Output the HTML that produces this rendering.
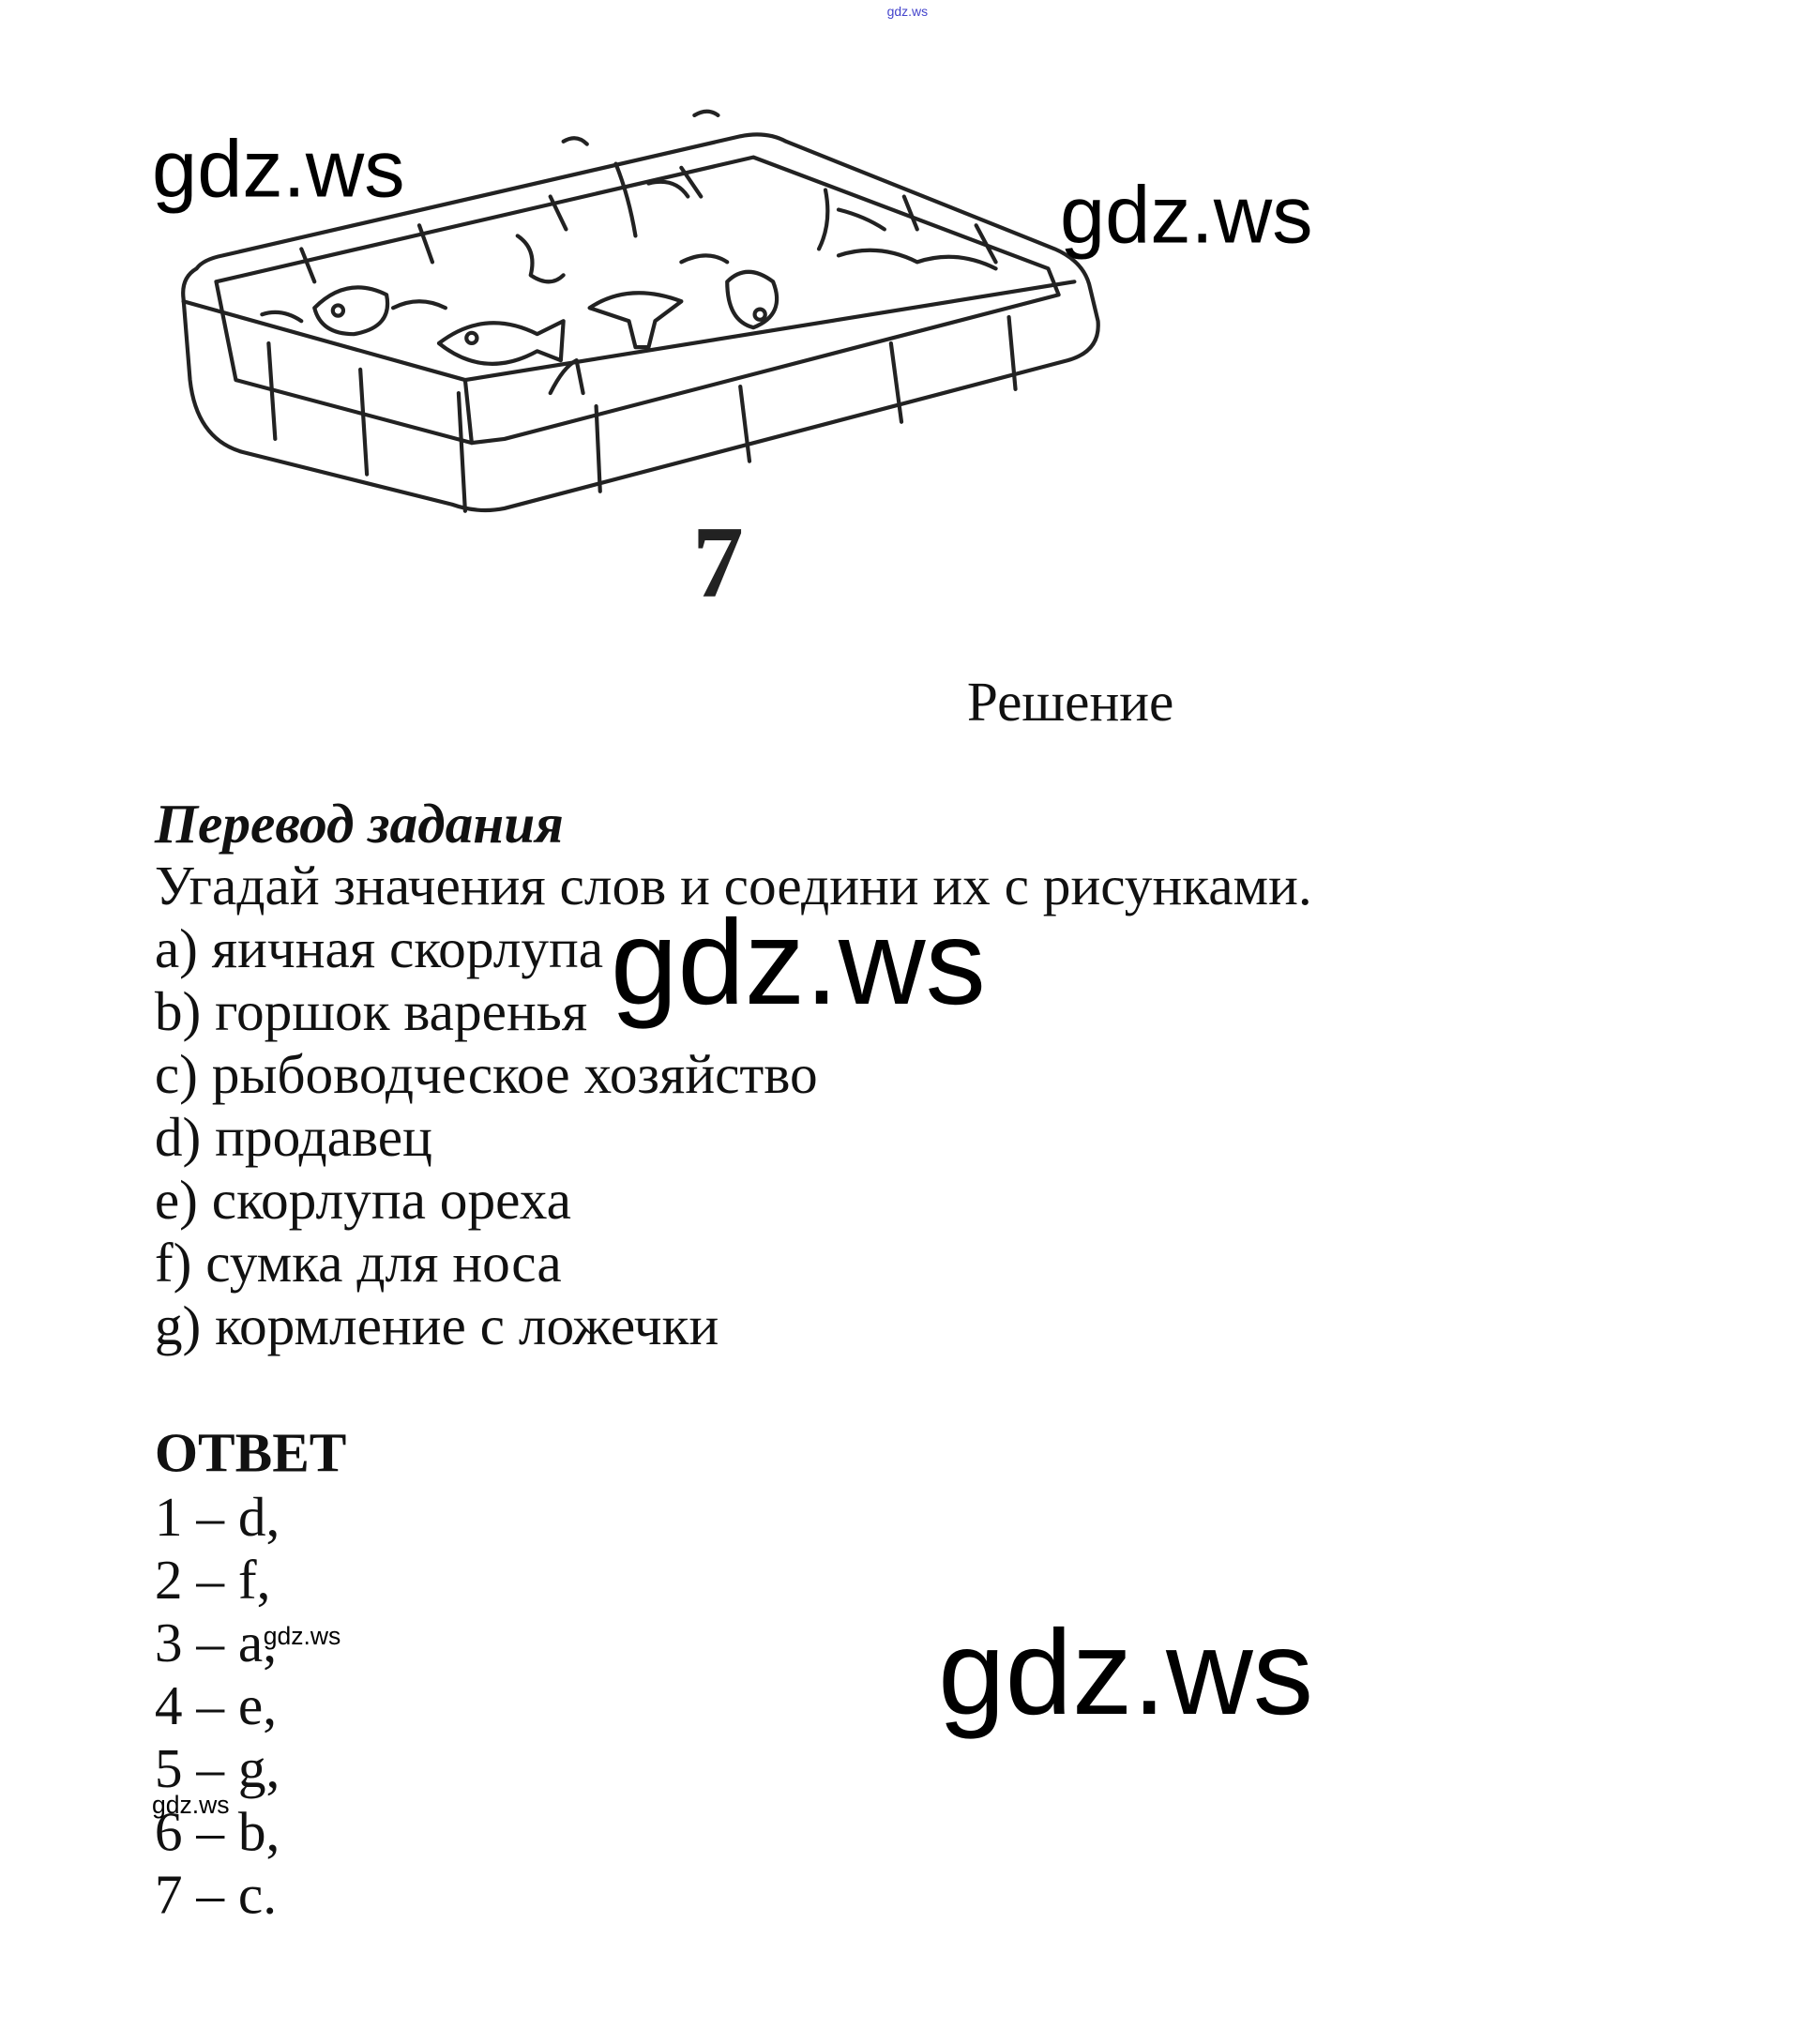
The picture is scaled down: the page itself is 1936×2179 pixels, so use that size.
<!DOCTYPE html>
<html><head><meta charset="utf-8">
<style>
html,body{margin:0;padding:0;background:#fff;}
svg{display:block;}
.t{font-family:"Liberation Serif","Noto Serif CJK SC",serif;font-size:42.5px;fill:#111;}
.w{font-family:"Liberation Sans","DejaVu Sans",sans-serif;fill:#000;}
</style></head>
<body>
<svg width="1936" height="2179" viewBox="0 0 1386 1560" xmlns="http://www.w3.org/2000/svg">
<rect width="1386" height="1560" fill="#fff"/>
<text x="677" y="12" class="w" font-size="10" style="fill:#44c">gdz.ws</text>

<g fill="none" stroke="#222" stroke-width="3" stroke-linejoin="round" stroke-linecap="round">
  <path d="M150,205 Q138,212 140,228 L145,290 Q150,335 185,345 L345,385 Q365,392 385,388 L815,275 Q840,268 838,245 L832,220 Q828,200 805,190 L600,108 Q585,100 565,104 L170,195 Q155,198 150,205 Z"/>
  <path d="M165,215 L575,120 L800,205 L808,225 L385,335 L360,338 L180,290 Z"/>
  <path d="M140,230 L355,290 L360,338"/>
  <path d="M355,290 L820,215"/>
  <path d="M205,262 L210,335 M275,282 L280,362 M350,300 L355,390 M455,310 L458,375 M565,295 L572,352 M680,262 L688,322 M770,242 L775,297"/>
  <path d="M230,190 L240,215 M320,172 L330,200 M420,150 L432,175 M520,128 L535,150 M690,150 L700,175 M745,172 L760,200"/>
  <path d="M240,235 Q265,210 295,225 Q300,250 270,255 Q245,255 240,235 Z"/>
  <circle cx="258" cy="237" r="4"/>
  <path d="M335,262 Q370,235 410,255 L430,245 L428,275 L410,268 Q370,290 335,262 Z"/>
  <circle cx="360" cy="258" r="4"/>
  <path d="M555,215 Q570,200 590,215 Q600,240 575,250 Q555,245 555,215 Z"/>
  <circle cx="580" cy="240" r="4"/>
  <path d="M450,235 Q480,215 520,230 L500,245 L495,265 L485,265 L480,245 Z"/>
  <path d="M470,125 Q480,150 485,180 M495,140 Q515,135 525,150 M630,145 Q635,170 625,190 M640,160 Q660,165 675,175"/>
  <path d="M420,300 Q430,280 440,275 L445,300"/>
  <path d="M395,180 Q410,190 405,210 Q420,220 430,210"/>
  <path d="M430,108 Q440,102 448,110 M530,88 Q540,82 548,88"/>
  <path d="M200,240 Q215,235 230,245 M300,235 Q320,225 340,235 M520,200 Q540,190 555,200 M640,195 Q670,185 700,200 Q730,190 760,205"/>
</g>
<text x="548" y="455" text-anchor="middle" font-family="Liberation Serif,serif" font-weight="bold" font-size="78" fill="#222">7</text>

<text x="738" y="550" class="t" font-size="40">Решение</text>
<text x="118" y="643" class="t" font-weight="bold" font-style="italic">Перевод задания</text>
<text x="118" y="690" class="t">Угадай значения слов и соедини их с рисунками.</text>
<text x="118" y="738" class="t">a) яичная скорлупа</text>
<text x="118" y="786" class="t">b) горшок варенья</text>
<text x="118" y="834" class="t">c) рыбоводческое хозяйство</text>
<text x="118" y="882" class="t">d) продавец</text>
<text x="118" y="930" class="t">e) скорлупа ореха</text>
<text x="118" y="978" class="t">f) сумка для носа</text>
<text x="118" y="1026" class="t">g) кормление с ложечки</text>

<text x="118" y="1123" class="t" font-weight="bold">ОТВЕТ</text>
<text x="118" y="1172" class="t">1 – d,</text>
<text x="118" y="1220" class="t">2 – f,</text>
<text x="118" y="1268" class="t">3 – a,</text>
<text x="118" y="1316" class="t">4 – e,</text>
<text x="118" y="1364" class="t">5 – g,</text>
<text x="118" y="1412" class="t">6 – b,</text>
<text x="118" y="1460" class="t">7 – c.</text>

<text x="116" y="150" class="w" font-size="62">gdz.ws</text>
<text x="809" y="185" class="w" font-size="62">gdz.ws</text>
<text x="466" y="766" class="w" font-size="92">gdz.ws</text>
<text x="716" y="1308" class="w" font-size="92">gdz.ws</text>
<text x="201" y="1255" class="w" font-size="19">gdz.ws</text>
<text x="116" y="1384" class="w" font-size="19">gdz.ws</text>
</svg>
</body></html>
